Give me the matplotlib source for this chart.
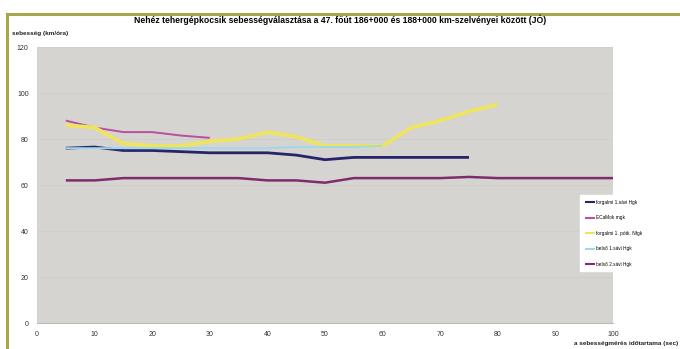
"""Speed profile of heavy trucks on road section 47 (186+000 - 188+000 km)."""

import matplotlib

matplotlib.use("Agg")
import matplotlib.pyplot as plt
from matplotlib.lines import Line2D

plt.rcParams["font.family"] = ["Liberation Sans", "DejaVu Sans"]

TITLE = ("Nehéz tehergépkocsik sebességválasztása a 47. főút 186+000 és "
         "188+000 km-szelvényei között (JÓ)")
Y_LABEL = "sebesség (km/óra)"
X_LABEL = "a sebességmérés időtartama (sec)"

X_TICKS = [0, 10, 20, 30, 40, 50, 60, 70, 80, 90, 100]
Y_TICKS = [0, 20, 40, 60, 80, 100, 120]

SERIES_NAMES = [
    "forgalmi 1.sávi Hgk",
    "ECaMok mgk",
    "forgalmi 1. pótk. Nfgk",
    "belső 1.sávi Hgk",
    "belső 2.sávi Hgk",
]

t_forg = [5, 10, 15, 20, 25, 30, 35, 40, 45, 50, 55, 60, 65, 70, 75]
v_forg = [76, 76.5, 75, 75, 74.5, 74, 74, 74, 73, 71, 72, 72, 72, 72, 72]

t_ecam = [5, 10, 15, 20, 25, 30]
v_ecam = [88, 85, 83, 83, 81.5, 80.5]

t_potk = [5, 10, 15, 20, 25, 30, 35, 40, 45, 50, 55, 60, 65, 70, 75, 80]
v_potk = [86, 85, 78, 77, 77, 79, 80, 83, 81, 77, 77, 77, 85, 88, 92, 95]

t_belso1 = [5, 10, 15, 20, 25, 30, 35, 40, 45, 50, 55, 60]
v_belso1 = [76, 76, 76, 76, 76, 76, 76, 76, 76.5, 76.5, 76.5, 77]

t_belso2 = [5, 10, 15, 20, 25, 30, 35, 40, 45, 50, 55, 60, 65, 70, 75,
            80, 85, 90, 95, 100]
v_belso2 = [62, 62, 63, 63, 63, 63, 63, 62, 62, 61, 63, 63, 63, 63, 63.5,
            63, 63, 63, 63, 63]

COLORS = ["#26256a", "#b8509e", "#efe45e", "#9fd8ea", "#7d2c6e"]
WIDTHS = [2.0, 1.4, 2.7, 1.4, 1.8]

fig = plt.figure(figsize=(6.8, 3.49), dpi=100)
fig.patch.set_facecolor("white")

# olive frame around the figure (left and top edges visible)
frame_color = "#a7a84c"
fig.add_artist(Line2D([7 / 680, 7 / 680], [0, 1 - 14 / 349],
                      transform=fig.transFigure, color=frame_color, lw=2.2))
fig.add_artist(Line2D([7 / 680, 1], [1 - 14 / 349, 1 - 14 / 349],
                      transform=fig.transFigure, color=frame_color, lw=2.2))

ax = fig.add_axes([37 / 680, 26 / 349, 576 / 680, 276 / 349])
ax.set_facecolor("#d6d4d1")

series = [
    (t_forg, v_forg),
    (t_ecam, v_ecam),
    (t_potk, v_potk),
    (t_belso1, v_belso1),
    (t_belso2, v_belso2),
]
handles = []
for (t, v), name, color, lw in zip(series, SERIES_NAMES, COLORS, WIDTHS):
    line, = ax.plot(t, v, color=color, lw=lw, label=name,
                    solid_capstyle="butt", solid_joinstyle="round", zorder=3)
    handles.append(line)

# light blue line stays visible above the yellow one where they overlap
handles[3].set_zorder(4)

ax.set_xlim(0, 100)
ax.set_ylim(0, 120)
ax.set_xticks(X_TICKS)
ax.set_yticks(Y_TICKS)
ax.tick_params(length=0, labelsize=5, colors="#333333", pad=6)
ax.grid(axis="y", color="#cfccc8", lw=0.5)
for spine in ax.spines.values():
    spine.set_visible(False)
ax.spines["bottom"].set_visible(True)
ax.spines["bottom"].set_color("#bdbab6")

fig.text(0.5, 1 - 20 / 349, TITLE, ha="center", va="center",
         fontsize=6.2, fontweight="bold")
fig.text(12 / 680, 1 - 34 / 349, Y_LABEL, ha="left", va="center",
         fontsize=4.6, fontweight="bold", color="#222222")
fig.text(678 / 680, 1 - 344 / 349, X_LABEL, ha="right", va="center",
         fontsize=4.6, fontweight="bold", color="#222222")

leg = fig.legend(handles=handles, loc="upper left",
                 bbox_to_anchor=(578 / 680, 1 - 193 / 349),
                 fontsize=3.4, frameon=True, fancybox=False,
                 edgecolor="white", facecolor="white", framealpha=1,
                 handlelength=2.2, handletextpad=0.2, labelspacing=2.2,
                 borderpad=1.0)
for lh in leg.get_lines():
    lh.set_linewidth(1.5)

fig.savefig("out.png", dpi=100)
